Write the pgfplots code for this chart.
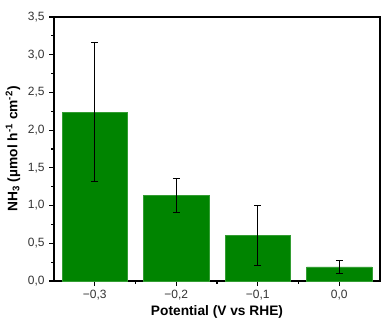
\documentclass[border=0pt]{standalone}
\usepackage{pgfplots}
\pgfplotsset{compat=1.18}
\usepackage{fontspec}
\setmainfont{Liberation Sans}
\definecolor{bargreen}{RGB}{0,132,0}
\begin{document}
\begin{tikzpicture}
\begin{axis}[
  name=ax,
  scale only axis,
  width=244.5pt, height=198pt,
  xmin=-0.35, xmax=0.05,
  ymin=0, ymax=3.5,
  axis line style={line width=0.9pt},
  xtick={-0.3,-0.2,-0.1,0},
  xticklabels={{−0,3},{−0,2},{−0,1},{0,0}},
  minor xtick={-0.25,-0.15,-0.05},
  ytick={0,0.5,...,3.5},
  minor ytick={0.25,0.75,...,3.25},
  tick align=outside,
  xtick pos=bottom, ytick pos=left,
  major tick length=3.5pt, minor tick length=2pt,
  tick style={line width=0.8pt, black},
  yticklabel style={/pgf/number format/.cd, fixed, fixed zerofill, precision=1, use comma, assume math mode=true},
  ticklabel style={font=\fontsize{9}{10}\selectfont, text=black!80},
  xlabel={\textbf{Potential (V vs RHE)}},
  ylabel={\textbf{NH\textsubscript{3} (µmol h\textsuperscript{-1} cm\textsuperscript{-2})}},
  label style={font=\fontsize{10.3}{12}\selectfont},
  xlabel style={yshift=3pt},
  ylabel style={yshift=-1pt},
  clip=false,
]
\addplot[ybar, bar width=0.08, fill=bargreen, draw=bargreen!80!white, line width=0.4pt,
  error bars/.cd, y dir=both, y explicit,
  error bar style={black, line width=0.7pt},
  error mark options={rotate=90, mark size=2.5pt, line width=0.7pt, black}]
  coordinates {
    (-0.3,2.24) +- (0,0.92)
    (-0.2,1.14) +- (0,0.225)
    (-0.1,0.60) +- (0,0.395)
    (0.0,0.186) +- (0,0.083)
  };
\end{axis}
\pgfresetboundingbox
\path ([xshift=-40.5pt,yshift=-29.25pt]ax.south west) rectangle ([xshift=0.75pt,yshift=12.75pt]ax.north east);
\end{tikzpicture}
\end{document}
